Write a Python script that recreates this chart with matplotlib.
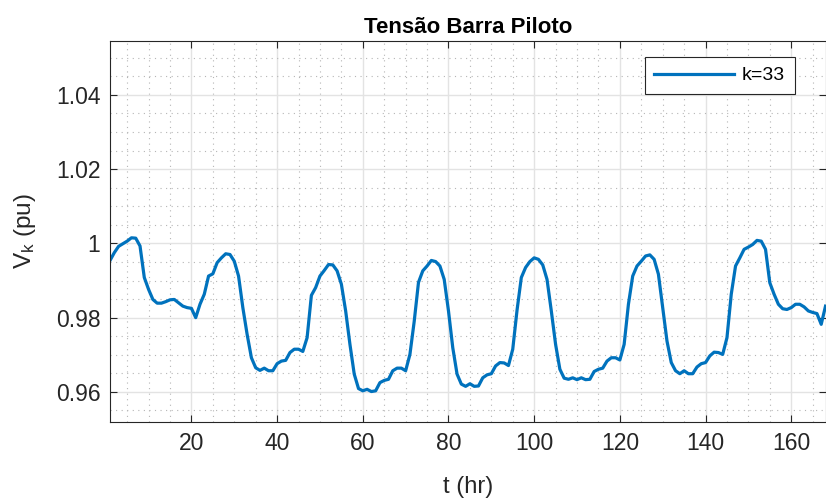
import matplotlib
matplotlib.use("Agg")
import matplotlib.pyplot as plt
from matplotlib.ticker import MultipleLocator
import numpy as np

plt.rcParams['font.family'] = ['Liberation Sans', 'DejaVu Sans']
plt.rcParams['mathtext.default'] = 'regular'

# hourly pilot bus voltage
hours = np.arange(1, 169)
v_k33 = [
    0.9954, 0.9975, 0.9992, 0.9999, 1.0006, 1.0015, 1.0014, 0.9993, 0.9908, 0.9876,
    0.9849, 0.9839, 0.9839, 0.9843, 0.9848, 0.9849, 0.9840, 0.9831, 0.9827, 0.9825,
    0.9800, 0.9836, 0.9863, 0.9912, 0.9918, 0.9948, 0.9961, 0.9972, 0.9970, 0.9952,
    0.9912, 0.9827, 0.9755, 0.9692, 0.9665, 0.9658, 0.9664, 0.9657, 0.9657, 0.9676,
    0.9683, 0.9685, 0.9706, 0.9715, 0.9715, 0.9709, 0.9746, 0.9860, 0.9881, 0.9912,
    0.9927, 0.9943, 0.9942, 0.9926, 0.9890, 0.9818, 0.9728, 0.9648, 0.9609, 0.9603,
    0.9607, 0.9601, 0.9603, 0.9625, 0.9631, 0.9634, 0.9657, 0.9664, 0.9664, 0.9657,
    0.9701, 0.9790, 0.9895, 0.9926, 0.9939, 0.9954, 0.9951, 0.9939, 0.9903, 0.9818,
    0.9719, 0.9648, 0.9621, 0.9615, 0.9622, 0.9615, 0.9616, 0.9638, 0.9646, 0.9649,
    0.9670, 0.9679, 0.9678, 0.9671, 0.9715, 0.9820, 0.9908, 0.9935, 0.9951, 0.9961,
    0.9957, 0.9942, 0.9903, 0.9818, 0.9728, 0.9661, 0.9637, 0.9634, 0.9638, 0.9633,
    0.9638, 0.9633, 0.9634, 0.9655, 0.9661, 0.9664, 0.9683, 0.9692, 0.9692, 0.9686,
    0.9728, 0.9836, 0.9912, 0.9939, 0.9952, 0.9966, 0.9969, 0.9957, 0.9917, 0.9827,
    0.9737, 0.9679, 0.9657, 0.9649, 0.9657, 0.9649, 0.9649, 0.9667, 0.9676, 0.9679,
    0.9697, 0.9707, 0.9706, 0.9701, 0.9746, 0.9863, 0.9939, 0.9961, 0.9984, 0.9990,
    0.9997, 1.0008, 1.0006, 0.9984, 0.9894, 0.9863, 0.9836, 0.9824, 0.9822, 0.9827,
    0.9836, 0.9836, 0.9829, 0.9818, 0.9814, 0.9811, 0.9782, 0.9831,
]
x_ticks = [20, 40, 60, 80, 100, 120, 140, 160]
y_ticks = [0.96, 0.98, 1.00, 1.02, 1.04]
y_tick_labels = ['0.96', '0.98', '1', '1.02', '1.04']

fig = plt.figure(figsize=(8.26, 5.01), dpi=100)
ax = fig.add_axes([0.1332, 0.1577, 0.8662, 0.7605])

ax.plot(hours, v_k33, color='#0072BD', linewidth=2.3, label='k=33')

ax.set_xlim(1, 168)
ax.set_ylim(0.9519, 1.0545)
ax.set_xticks(x_ticks)
ax.set_yticks(y_ticks)
ax.set_yticklabels(y_tick_labels)
ax.xaxis.set_minor_locator(MultipleLocator(5))
ax.yaxis.set_minor_locator(MultipleLocator(0.005))

ax.grid(which='major', color='#e3e3e3', linewidth=1.0, linestyle='-')
ax.grid(which='minor', color='#b5b5b5', linewidth=0.8, linestyle=(0, (1, 4)))
ax.set_axisbelow(True)

ax.tick_params(which='major', direction='in', length=5, width=0.8, top=True, right=True,
               labelsize=16.5, colors='#262626', pad=7)
ax.tick_params(which='minor', length=0)
for sp in ax.spines.values():
    sp.set_color('#262626')
    sp.set_linewidth(0.8)

ax.set_title('Tensão Barra Piloto', fontsize=16, fontweight='bold', color='black', pad=6)
ax.set_xlabel('t (hr)', fontsize=17, color='#262626', labelpad=15)
ax.set_ylabel('V$_k$ (pu)', fontsize=17.5, color='#262626', labelpad=13)

leg = ax.legend(loc='upper right', bbox_to_anchor=(0.957, 0.958), fontsize=14,
                frameon=True, fancybox=False, handlelength=4.1, borderpad=0.5,
                handletextpad=0.4, borderaxespad=0)
leg.get_frame().set_edgecolor('#262626')
leg.get_frame().set_linewidth(0.8)
leg.get_frame().set_alpha(1)

fig.savefig('out.png', dpi=100)
